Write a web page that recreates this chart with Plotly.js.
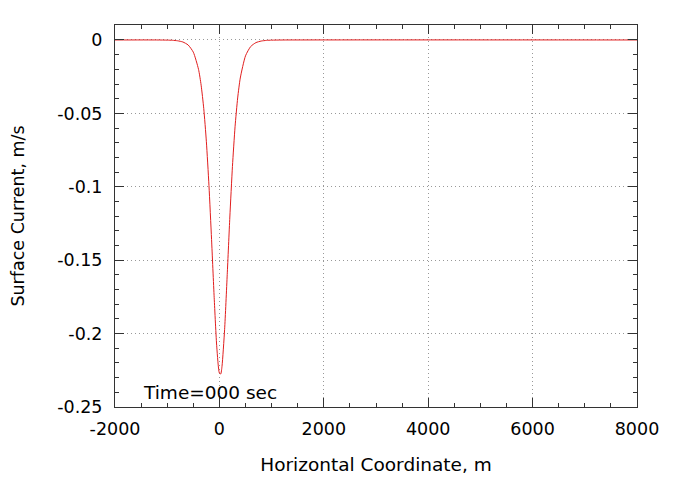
<!DOCTYPE html>
<html>
<head>
<meta charset="utf-8">
<script src="https://cdn.plot.ly/plotly-3.0.1.min.js"></script>
<style>html,body{margin:0;padding:0;background:#fff;}#chart{width:685px;height:480px;}</style>
</head>
<body>
<div id="chart"></div>
<script>
// Horizontal coordinate (m)
const xCoord = [-2000, -1200, -1000, -900, -800, -700, -600, -500, -400, -350, -300, -250, -200, -150, -100, -50, 0, 25, 50, 100, 150, 200, 250, 300, 350, 400, 500, 600, 700, 800, 900, 1000, 1200, 8000];
// Surface current (m/s)
const surfaceCurrent = [0, 0, -0.0001, -0.00022, -0.00056, -0.00137, -0.00338, -0.00829, -0.0200, -0.0308, -0.0466, -0.0690, -0.0991, -0.1360, -0.1755, -0.2092, -0.2269, -0.2275, -0.2223, -0.1971, -0.1598, -0.1206, -0.0861, -0.0591, -0.0395, -0.0259, -0.0108, -0.00443, -0.0018, -0.00073, -0.00029, -0.00012, -0.00002, 0];

const xTickVals = [-2000, 0, 2000, 4000, 6000, 8000];
const xTickText = ["-2000", "0", "2000", "4000", "6000", "8000"];
const yTickVals = [0, -0.05, -0.1, -0.15, -0.2, -0.25];
const yTickText = ["0", "-0.05", "-0.1", "-0.15", "-0.2", "-0.25"];

const fam = "DejaVu Sans, sans-serif";
const tickFont = {family: fam, size: 17.5, color: "#000"};

const trace = {
  x: xCoord, y: surfaceCurrent, type: "scatter", mode: "lines",
  line: {color: "rgb(225,30,30)", width: 1, shape: "spline", smoothing: 0.6},
  hoverinfo: "skip"
};

const axisCommon = {
  showline: true, linecolor: "#333", linewidth: 1, mirror: "ticks",
  ticks: "inside", ticklen: 9, tickwidth: 1, tickcolor: "#333",
  showgrid: true, gridcolor: "#999", griddash: "1px,3px", gridwidth: 1,
  zeroline: false, tickfont: tickFont
};

const layout = {
  width: 685, height: 480,
  margin: {l: 115, r: 48, t: 25, b: 73},
  paper_bgcolor: "#fff", plot_bgcolor: "#fff",
  font: tickFont, showlegend: false,
  xaxis: Object.assign({}, axisCommon, {
    range: [-2000, 8000], tickmode: "array", tickvals: xTickVals, ticktext: xTickText,
    minor: {dtick: 500, tick0: 0, ticks: "inside", ticklen: 4, tickcolor: "#333", showgrid: false},
    ticklabelstandoff: 6,
    title: {text: "Horizontal Coordinate, m", font: {family: fam, size: 18.5, color: "#000"}, standoff: 20}
  }),
  yaxis: Object.assign({}, axisCommon, {
    range: [-0.25, 0.0102], tickmode: "array", tickvals: yTickVals, ticktext: yTickText,
    minor: {dtick: 0.01, tick0: 0, ticks: "inside", ticklen: 4, tickcolor: "#333", showgrid: false},
    ticklabelstandoff: 8,
    title: {text: "Surface Current, m/s", font: {family: fam, size: 17.5, color: "#000"}, standoff: 28}
  }),
  annotations: [{
    text: "Time=000 sec", xref: "paper", yref: "paper", x: 0.05, y: 0.037,
    xanchor: "left", yanchor: "middle", showarrow: false, font: {family: fam, size: 18.5, color: "#000"}
  }]
};

Plotly.newPlot("chart", [trace], layout, {displayModeBar: false, staticPlot: true});
</script>
</body>
</html>
